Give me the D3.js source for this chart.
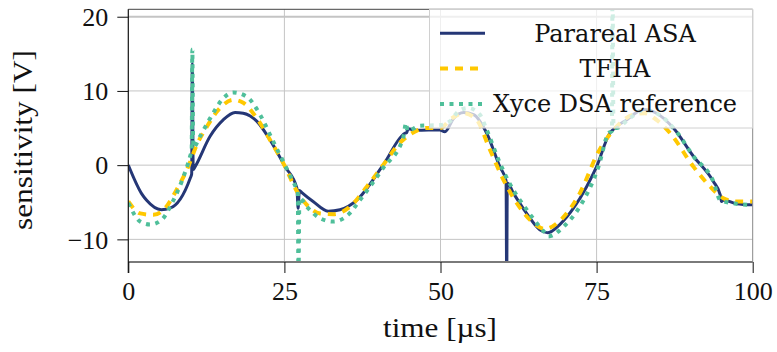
<!DOCTYPE html>
<html>
<head>
<meta charset="utf-8" />
<title>sensitivity</title>
<style>
  body { margin: 0; background: #fff; }
  text { fill: #111; }
</style>
</head>
<body>
<svg width="777" height="352"></svg>
<script src="https://cdn.jsdelivr.net/npm/d3@7"></script>
<script>
// time [µs] / sensitivity [V]
var pararealT = [0, 2.1, 2.9, 5.3, 6.7, 9.9, 10.15, 10.25, 10.4, 10.7, 13.1, 15.2, 17.1, 18.4, 20.6, 22.7, 25.1, 27.0, 27.2, 27.4, 27.8, 29.6, 32.0, 33.9, 36.6, 40.8, 44.3, 44.6, 44.8, 46.2, 49.9, 50.7, 52.1, 53.7, 55.3, 57.4, 59.5, 60.5, 60.6, 60.7, 61.7, 63.8, 65.9, 67.2, 69.1, 71.3, 73.4, 75.0, 77.1, 77.9, 79.8, 82.5, 84.6, 87.3, 90.5, 93.7, 94.8, 95.0, 95.3, 97.4, 100];
var pararealV = [0, -3.8, -4.7, -6.0, -5.8, -1.8, -1.2, 13.7, -0.6, -0.2, 3.9, 6.1, 7.1, 7.0, 5.9, 3.4, -0.2, -3.1, -5.8, -3.4, -3.7, -4.9, -6.2, -6.0, -4.7, 0, 4.3, 4.4, 4.9, 4.7, 4.75, 4.5, 6.3, 7.1, 6.8, 4.3, -0.2, -2.1, -16, -2.4, -3.8, -6.5, -8.7, -9.1, -8.0, -5.8, -2.9, -0.2, 4.3, 5.0, 6.1, 7.5, 7.0, 5.0, 1.2, -2.2, -4.0, -4.9, -4.7, -5.2, -5.35];

var tfhaT = [0, 1.9, 4.0, 5.9, 7.75, 9.6, 10.95, 12.6, 14.7, 16.8, 18.4, 20.6, 22.7, 24.8, 27.2, 28.6, 30.7, 32.8, 35.5, 38.2, 40.8, 43.5, 45.4, 47.8, 49.9, 51.8, 53.7, 55.8, 57.9, 60.1, 62.2, 64.9, 66.7, 69.1, 72.3, 75.3, 78.2, 80.9, 82.7, 84.6, 86.8, 90.5, 93.2, 95.3, 97.4, 100];
var tfhaV = [-4.9, -6.5, -6.7, -5.8, -3.3, -0.2, 2.7, 5.2, 7.7, 8.8, 8.4, 6.3, 3.4, 0.3, -3.8, -5.35, -6.5, -6.6, -5.6, -2.9, 0, 3.0, 4.3, 5.0, 5.0, 6.3, 7.0, 6.1, 2.1, -2.0, -5.1, -7.8, -8.6, -7.5, -3.8, 1.8, 5.2, 6.8, 7.0, 6.1, 4.3, -0.2, -2.9, -4.45, -4.9, -4.9];

var xyceT = [0, 1.9, 3.5, 5.3, 7.0, 8.55, 9.9, 10.15, 10.25, 10.4, 11.5, 13.1, 15.2, 16.8, 19.0, 21.1, 23.2, 25.1, 27.0, 27.15, 27.25, 27.4, 28.6, 30.7, 32.8, 35.2, 37.1, 40.8, 44.0, 44.5, 44.7, 46.7, 49.9, 51.5, 52.8, 54.4, 56.3, 57.4, 59.5, 60.9, 63.8, 66.5, 67.3, 69.7, 72.3, 75.3, 76.9, 77.45, 77.55, 77.7, 78.2, 80.0, 82.5, 84.6, 87.8, 90.5, 93.7, 94.8, 97.4, 100];
var xyceV = [-5.1, -7.6, -8.0, -7.4, -5.1, -2.2, 1.2, 2.0, 15.6, 2.4, 3.9, 6.3, 9.0, 9.8, 9.2, 6.8, 3.2, 0, -3.3, -3.6, -16, -4.4, -5.6, -7.15, -7.6, -6.7, -4.7, -0.4, 3.6, 5.7, 4.6, 5.3, 5.4, 5.9, 7.2, 7.7, 6.8, 4.75, 0.3, -2.2, -6.0, -8.9, -9.6, -8.3, -5.6, -0.2, 4.3, 4.6, 25, 5.3, 5.0, 6.1, 7.4, 7.0, 4.5, 1.2, -2.2, -4.7, -5.2, -5.35];

var xTicks = [0, 25, 50, 75, 100];
var yTicks = [-10, 0, 10, 20];
var seriesNames = ['Parareal ASA', 'TFHA', 'Xyce DSA reference'];

var x = d3.scaleLinear().domain([0, 100]).range([128.3, 752.7]);
var y = d3.scaleLinear().domain([-13.05, 21]).range([262, 9.3]);

var svg = d3.select('svg');
var serif = '"Liberation Serif", "Times New Roman", serif';

svg.append('clipPath').attr('id', 'plot')
    .append('rect')
    .attr('x', x(0)).attr('y', y(21))
    .attr('width', x(100) - x(0)).attr('height', y(-13.05) - y(21));

// grid
svg.append('g').selectAll('line').data(xTicks.slice(1, -1)).enter().append('line')
    .attr('x1', d => x(d)).attr('x2', d => x(d))
    .attr('y1', y(21)).attr('y2', y(-13.05))
    .attr('stroke', '#c4c4c4').attr('stroke-width', 1);
svg.append('g').selectAll('line').data(yTicks).enter().append('line')
    .attr('x1', x(0)).attr('x2', x(100))
    .attr('y1', d => y(d)).attr('y2', d => y(d))
    .attr('stroke', '#c4c4c4').attr('stroke-width', d => d == 20 ? 2 : 1);

// series
function zip(ts, vs) { return ts.map((t, i) => [t, vs[i]]); }
var line = d3.line().x(d => x(d[0])).y(d => y(d[1])).curve(d3.curveMonotoneX);

var series = [
    { name: seriesNames[0], data: zip(pararealT, pararealV), color: '#253776', width: 3, dash: null },
    { name: seriesNames[1], data: zip(tfhaT, tfhaV), color: '#ffc800', width: 4, dash: '8,7' },
    { name: seriesNames[2], data: zip(xyceT, xyceV), color: '#4fbf9a', width: 4, dash: '4,5.5' }
];

var plot = svg.append('g').attr('clip-path', 'url(#plot)');
plot.selectAll('path').data(series).enter().append('path')
    .attr('d', d => line(d.data))
    .attr('fill', 'none')
    .attr('stroke', d => d.color)
    .attr('stroke-width', d => d.width)
    .attr('stroke-dasharray', d => d.dash)
    .attr('stroke-linejoin', 'round');

// frame
svg.append('line').attr('x1', x(0)).attr('x2', x(100)).attr('y1', y(21)).attr('y2', y(21))
    .attr('stroke', '#444').attr('stroke-width', 1);
svg.append('line').attr('x1', x(100)).attr('x2', x(100)).attr('y1', y(21)).attr('y2', y(-13.05))
    .attr('stroke', '#888').attr('stroke-width', 1);
svg.append('line').attr('x1', x(0)).attr('x2', x(100)).attr('y1', y(-13.05)).attr('y2', y(-13.05))
    .attr('stroke', '#7a7a7a').attr('stroke-width', 2);
svg.append('line').attr('x1', x(0)).attr('x2', x(0)).attr('y1', y(21)).attr('y2', y(-13.05) + 11)
    .attr('stroke', '#111').attr('stroke-width', 1.2);

// axes
var xAxis = svg.append('g').attr('transform', 'translate(0,' + y(-13.05) + ')')
    .call(d3.axisBottom(x).tickValues(xTicks).tickSize(11).tickPadding(9).tickFormat(d3.format('d')));
var yAxis = svg.append('g').attr('transform', 'translate(' + x(0) + ',0)')
    .call(d3.axisLeft(y).tickValues(yTicks).tickSize(11).tickPadding(9)
        .tickFormat(d => d < 0 ? '\u2212' + Math.abs(d) : d));
[xAxis, yAxis].forEach(function (a) {
    a.attr('font-family', serif).attr('font-size', 26);
    a.select('.domain').remove();
    a.selectAll('.tick line').attr('stroke', '#111').attr('stroke-width', 1);
    a.selectAll('text').attr('fill', '#111');
});
yAxis.selectAll('text').attr('dy', '0.34em');

svg.append('text')
    .attr('x', 440).attr('y', 337)
    .attr('text-anchor', 'middle')
    .attr('font-family', serif).attr('font-size', 27)
    .attr('textLength', 114).attr('lengthAdjust', 'spacingAndGlyphs')
    .text('time [\u00b5s]');
svg.append('text')
    .attr('transform', 'translate(32,140) rotate(-90)')
    .attr('text-anchor', 'middle')
    .attr('font-family', serif).attr('font-size', 27)
    .attr('textLength', 180).attr('lengthAdjust', 'spacingAndGlyphs')
    .text('sensitivity [V]');

// legend
var legend = svg.append('g');
legend.append('rect')
    .attr('x', 429.5).attr('y', 9.5).attr('width', 323).attr('height', 118.5)
    .attr('fill', '#fff').attr('fill-opacity', 0.72)
    .attr('stroke', '#d0d0d0').attr('stroke-width', 1);
var rows = legend.selectAll('g.row').data(series).enter().append('g')
    .attr('transform', (d, i) => 'translate(0,' + (33.3 + i * 35.3) + ')');
rows.append('line')
    .attr('x1', 440).attr('x2', 485).attr('y1', 0).attr('y2', 0)
    .attr('stroke', d => d.color)
    .attr('stroke-width', d => d.width)
    .attr('stroke-dasharray', d => d.dash);
rows.append('text')
    .attr('x', 615).attr('y', 8.5)
    .attr('text-anchor', 'middle')
    .attr('font-family', '"DejaVu Serif", serif').attr('font-size', 24)
    .text(d => d.name);
</script>
</body>
</html>
